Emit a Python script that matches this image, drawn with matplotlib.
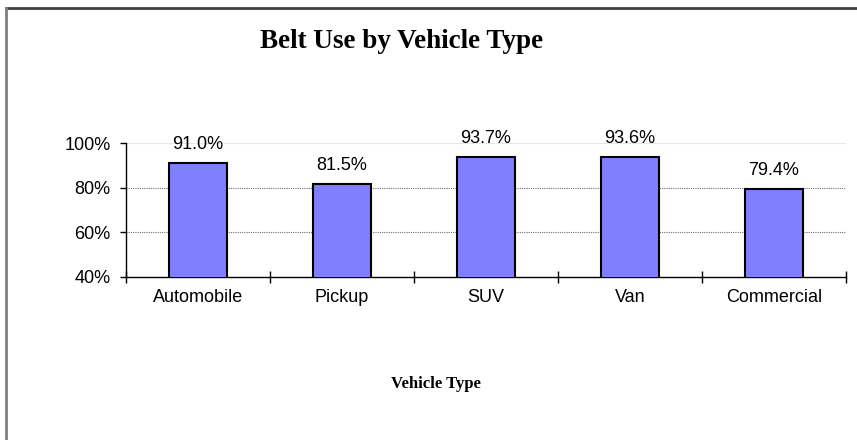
import matplotlib.pyplot as plt
from matplotlib.lines import Line2D
import numpy as np

# Belt use rate by vehicle type (percent)
categories = ['Automobile', 'Pickup', 'SUV', 'Van', 'Commercial']
belt_use = [91.0, 81.5, 93.7, 93.6, 79.4]
y_ticks = [40, 60, 80, 100]

fig = plt.figure(figsize=(8.57, 4.40), dpi=100)
ax = fig.add_axes([0.147, 0.3705, 0.840, 0.3045])

x = np.arange(len(categories))
bars = ax.bar(x, belt_use, width=0.4, color='#8080FF', edgecolor='black',
              linewidth=1.5, zorder=3)

# value labels above each bar
for bar, val in zip(bars, belt_use):
    ax.annotate(f'{val:.1f}%', (bar.get_x() + bar.get_width() / 2, val),
                xytext=(0, 10), textcoords='offset points',
                ha='center', va='baseline', fontsize=13, family='Liberation Sans',
                annotation_clip=False)

ax.set_xlim(-0.5, len(categories) - 0.5)
ax.set_ylim(40, 100)
ax.set_yticks(y_ticks)
ax.set_yticklabels([f'{t}%' for t in y_ticks], family='Liberation Sans', fontsize=13)

# category labels in the middle, tick marks at the boundaries
ax.set_xticks(x)
ax.set_xticklabels(categories, family='Liberation Sans', fontsize=13)
ax.tick_params(axis='x', length=0, pad=9)
ax.set_xticks(np.arange(len(categories) + 1) - 0.5, minor=True)
ax.tick_params(axis='x', which='minor', direction='inout', length=8, width=1)
ax.tick_params(axis='y', direction='out', length=4, width=1, pad=7)

for yv in [60, 80]:
    ax.axhline(yv, linestyle=(0, (1, 1)), color='#707070', linewidth=0.8, zorder=0)
ax.axhline(100, color='#e6e6e6', linewidth=0.8, zorder=0)
for side in ['top', 'right']:
    ax.spines[side].set_visible(False)
ax.spines['left'].set_linewidth(1)
ax.spines['bottom'].set_linewidth(1)

fig.text(0.469, 0.892, 'Belt Use by Vehicle Type', ha='center', va='baseline',
         fontsize=19.5, fontweight='bold', family='Liberation Serif')
fig.text(0.509, 0.118, 'Vehicle Type', ha='center', va='baseline',
         fontsize=12, fontweight='bold', family='Liberation Serif')

# chart area border (top and left visible)
fig.add_artist(Line2D([0.007, 1.0], [0.982, 0.982], color='#404040', linewidth=2))
fig.add_artist(Line2D([0.007, 0.007], [0.0, 0.982], color='#808080', linewidth=2))

fig.savefig('out.png', dpi=100)
